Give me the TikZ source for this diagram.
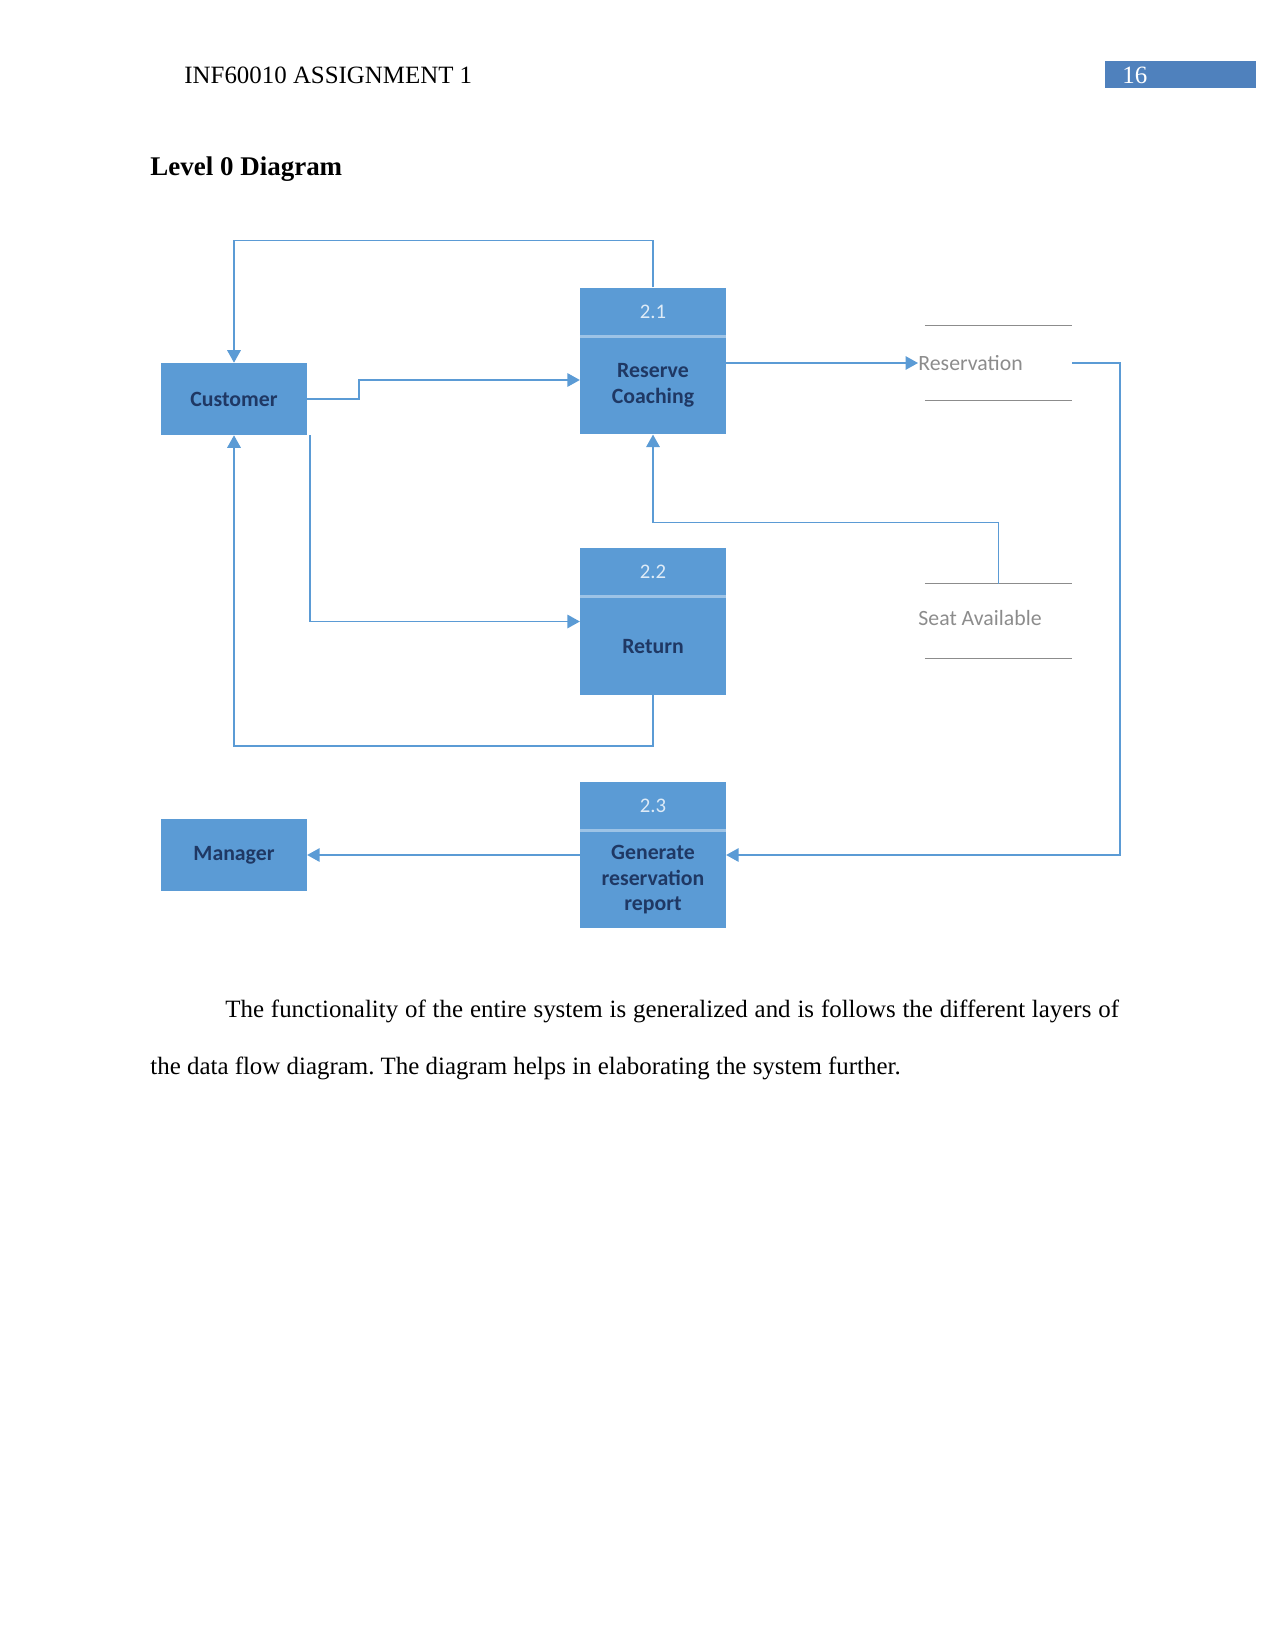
\documentclass[tikz,border=0pt]{standalone}
\usepackage{fontspec}
\setmainfont{Liberation Serif}
\newfontfamily\calibri{Carlito}
\usetikzlibrary{arrows.meta, positioning, calc}
\definecolor{boxblue}{HTML}{5B9BD5}
\definecolor{pageblue}{HTML}{4F81BD}
\definecolor{boxtext}{HTML}{1F3864}
\definecolor{numtext}{HTML}{DEEBF7}
\definecolor{divblue}{HTML}{9DC3E6}
\definecolor{storegray}{HTML}{8C8C8C}
\definecolor{flowblue}{HTML}{5B9BD5}
\frenchspacing

\tikzset{
  entity/.style={fill=boxblue, minimum width=70.1pt, minimum height=34.6pt, inner sep=0pt},
  process/.style={fill=boxblue, minimum width=70.1pt, minimum height=70.5pt, inner sep=0pt},
  boxlabel/.style={font=\calibri\bfseries\fontsize{10.5}{12.5}\selectfont, text=boxtext, align=center, inner sep=0pt},
  numlabel/.style={font=\calibri\fontsize{10}{12}\selectfont, text=numtext, inner sep=0pt},
  divider/.style={draw=divblue, line width=1.4pt},
  store/.style={minimum width=70.6pt, minimum height=35.5pt, inner sep=0pt},
  storeline/.style={draw=storegray, line width=0.7pt},
  storelabel/.style={font=\calibri\fontsize{10.5}{12.5}\selectfont, text=storegray, inner sep=0pt},
  flow/.style={draw=flowblue, line width=0.7pt, -{Triangle[length=6pt, width=6.5pt]}},
}

\begin{document}
\begin{tikzpicture}[x=0.016933cm, y=-0.016933cm]
  \useasboundingbox (0,0) rectangle (1275,1651);

  % page header
  \node[anchor=base west, font=\fontsize{12}{14}\selectfont, inner sep=0pt] (runhead) at (184,83) {INF60010 ASSIGNMENT 1};
  \node[fill=pageblue, anchor=north west, minimum width=72.5pt, minimum height=13pt, inner sep=0pt] (pagebox) at (1105,61) {};
  \node[anchor=base west, font=\fontsize{12}{14}\selectfont, text=white, inner sep=0pt] (pagenum) at (1122,83) {16};
  \node[anchor=base west, font=\bfseries\fontsize{13}{15}\selectfont, inner sep=0pt] (title) at (150,175) {Level 0 Diagram};

  % external entities
  \node[entity] (cust) at (234,399) {};
  \node[boxlabel] (custtxt) at (cust.center) {Customer};
  \node[entity] (mgr) at (234,855) {};
  \node[boxlabel] (mgrtxt) at (mgr.center) {Manager};

  % processes
  \node[process] (p21) at (653,361) {};
  \draw[divider] ($(p21.north west)+(0,49)$) -- ($(p21.north east)+(0,49)$);
  \node[numlabel] (p21num) at ($(p21.north)+(0,24)$) {2.1};
  \node[boxlabel] (p21txt) at ($(p21.south)+(0,-49)$) {Reserve\\Coaching};

  \node[process] (p22) at (653,621.5) {};
  \draw[divider] ($(p22.north west)+(0,49)$) -- ($(p22.north east)+(0,49)$);
  \node[numlabel] (p22num) at ($(p22.north)+(0,24)$) {2.2};
  \node[boxlabel] (p22txt) at ($(p22.south)+(0,-49)$) {Return};

  \node[process] (p23) at (653,855) {};
  \draw[divider] ($(p23.north west)+(0,49)$) -- ($(p23.north east)+(0,49)$);
  \node[numlabel] (p23num) at ($(p23.north)+(0,24)$) {2.3};
  \node[boxlabel] (p23txt) at ($(p23.south)+(0,-49)$) {Generate\\reservation\\report};

  % data stores
  \node[store] (resv) at (998.5,363) {};
  \draw[storeline] (resv.north west) -- (resv.north east);
  \draw[storeline] (resv.south west) -- (resv.south east);
  \node[storelabel, anchor=west] (resvtxt) at (918,363) {Reservation};

  \node[store] (seat) at (998.5,621) {};
  \draw[storeline] (seat.north west) -- (seat.north east);
  \draw[storeline] (seat.south west) -- (seat.south east);
  \node[storelabel, anchor=west] (seattxt) at (918,618) {Seat Available};

  % data flows
  \draw[flow] (p21.north) -- ++(0,-47) -| (cust.north);
  \draw[flow] (cust.east) -- ++(52,0) |- ($(p21.west)+(0,19)$);
  \draw[flow] ($(cust.south east)+(3,0)$) |- (p22.west);
  \draw[flow] (p22.south) -- ++(0,51) -| (cust.south);
  \draw[flow] (p21.east |- resvtxt.west) -- (resvtxt.west);
  \draw[flow] (resv.east) -- ++(48,0) |- (p23.east);
  \draw[flow] (seat.north) -- ++(0,-61) -| (p21.south);
  \draw[flow] (p23.west) -- (mgr.east);

  % text below the diagram
  \node[anchor=base west, font=\fontsize{12}{14}\selectfont, inner sep=0pt] (para1) at (225,1017)
    {\makebox[430.6pt][s]{The functionality of the entire system is generalized and is follows the different layers of}};
  \node[anchor=base west, font=\fontsize{12}{14}\selectfont, inner sep=0pt] (para2) at (150,1074)
    {the data flow diagram. The diagram helps in elaborating the system further.};
\end{tikzpicture}
\end{document}
